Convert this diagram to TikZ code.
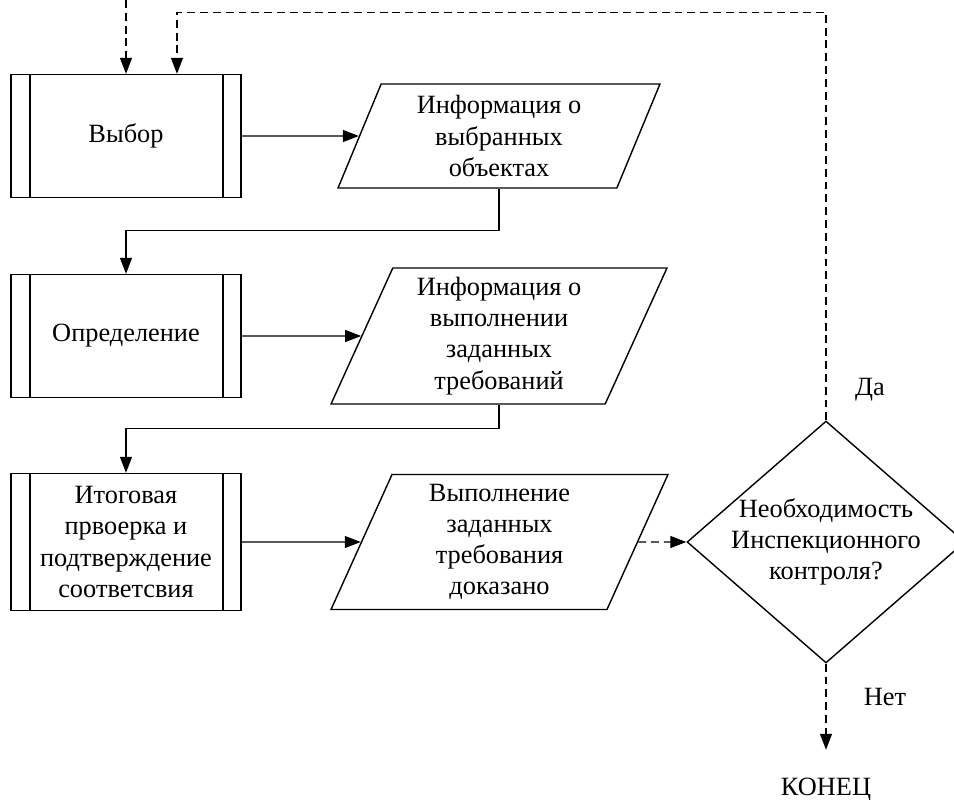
\documentclass[tikz,border=0pt]{standalone}
\usepackage{fontspec}
\setmainfont{Liberation Serif}
\usetikzlibrary{shapes.geometric,arrows.meta}

\begin{document}
\begin{tikzpicture}[x=0.02cm,y=-0.02cm,>={Triangle[length=0.32cm,width=0.24cm]},
        font=\fontsize{15pt}{17.8pt}\selectfont,
        proc/.style={draw,line width=0.8pt,minimum width=4.6cm,minimum height=2.46cm,align=center,
            path picture={\draw[line width=0.8pt]
                ([xshift=0.38cm]path picture bounding box.north west) -- ([xshift=0.38cm]path picture bounding box.south west)
                ([xshift=-0.36cm]path picture bounding box.north east) -- ([xshift=-0.36cm]path picture bounding box.south east);}},
        data/.style={draw,line width=0.8pt,trapezium,trapezium left angle=63,trapezium right angle=117,
            trapezium stretches body,align=center,inner sep=1pt},
        vopr/.style={draw,line width=0.8pt,diamond,aspect=1.15,minimum width=5.56cm,minimum height=4.84cm,
            align=center,inner sep=-4pt},
        svyaz/.style={line width=0.7pt},
        pun/.style={svyaz,dash pattern=on 4.5pt off 2.8pt}]
        \useasboundingbox (0,0) rectangle (954,800);
        \node[proc] (a) at (126,136) {Выбор};
        \node[data,minimum width=6.44cm,minimum height=2.08cm] (b) at (499,136) {Информация о\\выбранных\\объектах};
        \node[proc] (c) at (126,336) {Определение};
        \node[data,minimum width=6.72cm,minimum height=2.72cm] (d) at (499,336) {Информация о\\выполнении\\заданных\\требований};
        \node[proc,minimum height=2.74cm] (e) at (126,542) {Итоговая\\првоерка и\\подтверждение\\соответсвия};
        \node[data,minimum width=6.74cm,minimum height=2.7cm] (f) at (499.5,542) {Выполнение\\заданных\\требования\\доказано};
        \node[vopr] (g) at (826,542) {Необходимость\\Инспекционного\\контроля?};
        \node (da) at (870,390) {Да};
        \node (net) at (885,697) {Нет};
        \node (k) at (826,790) {КОНЕЦ};
        \coordinate (vh) at (126,0);
        \draw[pun,->] (vh) -- (a.north);
        \draw[svyaz,->] (a) -- (b);
        \draw[svyaz,->] (b.south -| b.center) -- ++(0,42) -| (c.north);
        \draw[svyaz,->] (c) -- (d);
        \draw[svyaz,->] (d.south -| d.center) -- ++(0,24) -| (e.north);
        \draw[svyaz,->] (e) -- (f);
        \draw[pun,->] (f) -- (g);
        \draw[pun,->] (g.north) -- ++(0,-408) -| ([xshift=1.02cm]a.north);
        \draw[pun,->,shorten >=0.45cm] (g.south) -- (k.north);
    \end{tikzpicture}
\end{document}
